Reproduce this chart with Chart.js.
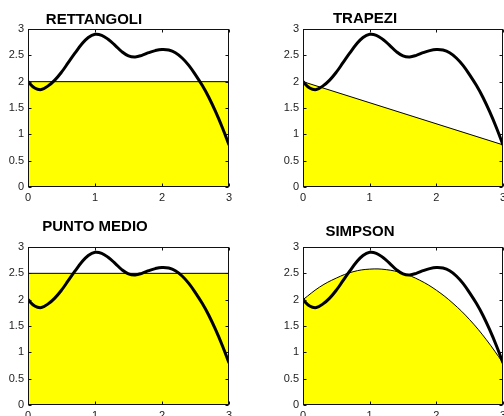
<!DOCTYPE html>
<html>
<head>
<meta charset="utf-8">
<script src="https://cdn.jsdelivr.net/npm/chart.js@4/dist/chart.umd.min.js"></script>
<style>
  html, body { margin: 0; padding: 0; background: #fff; overflow: hidden; width: 504px; height: 416px; }
  canvas { position: absolute; }
</style>
</head>
<body>
<canvas id="c1" style="left:0;top:0" width="252" height="208"></canvas>
<canvas id="c2" style="left:252px;top:0" width="290" height="208"></canvas>
<canvas id="c3" style="left:0;top:208px" width="252" height="240"></canvas>
<canvas id="c4" style="left:252px;top:208px" width="290" height="240"></canvas>
<script>
// function f(x)
const xs = [0, 0.1, 0.2, 0.3, 0.4, 0.5, 0.6, 0.7, 0.8, 0.9, 1.0,
            1.1, 1.2, 1.3, 1.4, 1.5, 1.6, 1.7, 1.8, 1.9, 2.0,
            2.1, 2.2, 2.3, 2.4, 2.5, 2.6, 2.7, 2.8, 2.9, 3.0];
const fVals = [2.00, 1.88, 1.85, 1.92, 2.03, 2.18, 2.36, 2.54, 2.71, 2.84, 2.90,
               2.88, 2.80, 2.69, 2.57, 2.49, 2.47, 2.50, 2.55, 2.59, 2.61,
               2.60, 2.55, 2.45, 2.31, 2.13, 1.93, 1.70, 1.43, 1.13, 0.80];

// approximations (yellow areas)
const rettX = [0, 3];
const rettY = [2, 2];
const trapX = [0, 3];
const trapY = [2.0, 0.8];
const puntoX = [0, 3];
const puntoY = [2.5, 2.5];
const simpX = [0, 0.25, 0.5, 0.75, 1.0, 1.25, 1.5, 1.75, 2.0, 2.25, 2.5, 2.75, 3.0];
const simpY = [2.00, 2.24, 2.41, 2.53, 2.58, 2.57, 2.50, 2.37, 2.18, 1.93, 1.62, 1.24, 0.80];

const titles = ['RETTANGOLI', 'TRAPEZI', 'PUNTO MEDIO', 'SIMPSON'];
const xTickLabels = ['0', '1', '2', '3'];
const yTickLabels = ['0', '0.5', '1', '1.5', '2', '2.5', '3'];

const pts = (xa, ya) => xa.map((x, i) => ({ x: x, y: ya[i] }));

// matlab style box with inward ticks + title
const boxPlugin = {
  id: 'matBox',
  afterDraw(chart, args, opts) {
    const { ctx, chartArea: a, scales } = chart;
    const x = scales.x, y = scales.y;
    ctx.save();
    ctx.strokeStyle = '#111';
    ctx.lineWidth = 1;
    const L = Math.round(a.left) + 0.5, R = Math.round(a.right) - 0.5;
    const T = Math.round(a.top) + 0.5, B = Math.round(a.bottom) - 0.5;
    ctx.strokeRect(L, T, R - L, B - T);
    ctx.beginPath();
    x.ticks.forEach(t => {
      const px = Math.round(x.getPixelForValue(t.value)) + 0.5;
      ctx.moveTo(px, B); ctx.lineTo(px, B - 3);
      ctx.moveTo(px, T); ctx.lineTo(px, T + 3);
    });
    y.ticks.forEach(t => {
      const py = Math.round(y.getPixelForValue(t.value)) + 0.5;
      ctx.moveTo(L, py); ctx.lineTo(L + 3, py);
      ctx.moveTo(R, py); ctx.lineTo(R - 3, py);
    });
    ctx.stroke();
    ctx.font = 'bold 15px "Liberation Sans", Arial, sans-serif';
    ctx.fillStyle = '#000';
    ctx.textAlign = 'center';
    ctx.textBaseline = 'alphabetic';
    ctx.fillText(opts.text, opts.x, opts.y);
    ctx.restore();
  }
};

const tickFont = { size: 11, family: '"Liberation Sans", Arial, sans-serif' };

function makeChart(id, title, titlePos, pad, yWidth, areaX, areaY, tension) {
  return new Chart(document.getElementById(id), {
    type: 'line',
    data: {
      datasets: [
        {
          data: pts(xs, fVals),
          borderColor: '#000',
          borderWidth: 3,
          pointRadius: 0,
          tension: 0.4,
          fill: false,
          order: 0
        },
        {
          data: pts(areaX, areaY),
          borderColor: '#000',
          borderWidth: 1,
          backgroundColor: '#ffff00',
          pointRadius: 0,
          tension: tension,
          fill: 'origin',
          order: 1
        }
      ]
    },
    options: {
      responsive: false,
      animation: false,
      layout: { padding: pad },
      plugins: {
        legend: { display: false },
        tooltip: { enabled: false },
        matBox: { text: title, x: titlePos[0], y: titlePos[1] }
      },
      scales: {
        x: {
          type: 'linear', min: 0, max: 3,
          ticks: { stepSize: 1, padding: 4, color: '#222', font: tickFont,
                   callback: (v, i) => xTickLabels[i] },
          grid: { display: false, drawTicks: false },
          border: { display: false },
          afterFit: s => { s.height = 20; }
        },
        y: {
          type: 'linear', min: 0, max: 3,
          ticks: { stepSize: 0.5, padding: 4, color: '#222', font: tickFont,
                   callback: (v, i) => yTickLabels[i] },
          grid: { display: false, drawTicks: false },
          border: { display: false },
          afterFit: s => { s.width = yWidth; }
        }
      }
    },
    plugins: [boxPlugin]
  });
}

makeChart('c1', titles[0], [94, 24], { left: 0, top: 29, right: 23, bottom: 1 }, 28, rettX, rettY, 0);
makeChart('c2', titles[1], [113, 22.5], { left: 0, top: 29, right: 39, bottom: 1 }, 51, trapX, trapY, 0);
makeChart('c3', titles[2], [95, 23], { left: 0, top: 39, right: 23, bottom: 23 }, 28, puntoX, puntoY, 0);
makeChart('c4', titles[3], [108, 27.5], { left: 0, top: 39, right: 39, bottom: 23 }, 51, simpX, simpY, 0.4);
</script>
</body>
</html>
